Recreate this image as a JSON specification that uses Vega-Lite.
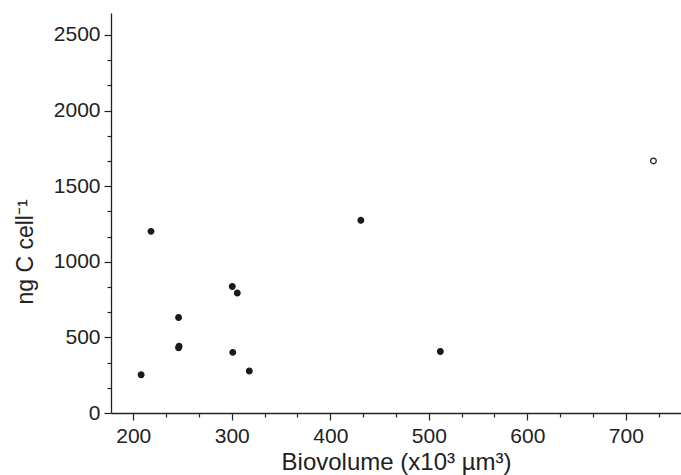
{
  "$schema": "https://vega.github.io/schema/vega-lite/v6.json",
  "width": 570,
  "height": 400,
  "autosize": "none",
  "padding": {"left": 111, "top": 13, "right": 0, "bottom": 62},
  "background": "white",
  "config": {
    "view": {"stroke": null},
    "font": "Liberation Sans"
  },
  "data": {
    "values": [
      {"biovolume": 208, "carbon": 253, "kind": "filled"},
      {"biovolume": 218, "carbon": 1201, "kind": "filled"},
      {"biovolume": 246, "carbon": 632, "kind": "filled"},
      {"biovolume": 246, "carbon": 432, "kind": "filled"},
      {"biovolume": 246.5, "carbon": 441, "kind": "filled"},
      {"biovolume": 300.5, "carbon": 837, "kind": "filled"},
      {"biovolume": 305.6, "carbon": 793, "kind": "filled"},
      {"biovolume": 301, "carbon": 401, "kind": "filled"},
      {"biovolume": 317.8, "carbon": 278, "kind": "filled"},
      {"biovolume": 431, "carbon": 1274, "kind": "filled"},
      {"biovolume": 511.7, "carbon": 407, "kind": "filled"},
      {"biovolume": 728, "carbon": 1667, "kind": "open"}
    ]
  },
  "mark": {"type": "point", "filled": false, "opacity": 1, "strokeWidth": 1.3, "stroke": "#1a1a1a"},
  "encoding": {
    "x": {
      "field": "biovolume",
      "type": "quantitative",
      "scale": {"domain": [177.4, 756], "nice": false, "zero": false},
      "axis": {
        "title": "Biovolume (x10³ µm³)",
        "values": [200, 233.333, 266.667, 300, 333.333, 366.667, 400, 433.333, 466.667, 500, 533.333, 566.667, 600, 633.333, 666.667, 700, 733.333],
        "labelExpr": "abs(datum.value/100 - round(datum.value/100)) < 0.01 ? format(datum.value, 'd') : ''",
        "labelOverlap": false,
        "labelFlush": false,
        "labelFont": "Liberation Sans",
        "labelFontSize": 21,
        "labelColor": "#222",
        "labelBaseline": "alphabetic",
        "labelPadding": 22.5,
        "tickSize": {"condition": {"test": "abs(datum.value/100 - round(datum.value/100)) < 0.01", "value": 7}, "value": 4},
        "tickColor": "#222",
        "tickWidth": 1.2,
        "domainColor": "#222",
        "domainWidth": 1.3,
        "grid": false,
        "titleFont": "Liberation Sans",
        "titleFontSize": 24,
        "titleFontWeight": "normal",
        "titleColor": "#222",
        "titleBaseline": "alphabetic",
        "titleY": 56.5
      }
    },
    "y": {
      "field": "carbon",
      "type": "quantitative",
      "scale": {"domain": [0, 2645], "nice": false, "zero": true},
      "axis": {
        "title": "ng C cell⁻¹",
        "values": [0, 166.667, 333.333, 500, 666.667, 833.333, 1000, 1166.667, 1333.333, 1500, 1666.667, 1833.333, 2000, 2166.667, 2333.333, 2500],
        "labelExpr": "abs(datum.value/500 - round(datum.value/500)) < 0.01 ? format(datum.value, 'd') : ''",
        "labelOverlap": false,
        "labelFlush": false,
        "labelFont": "Liberation Sans",
        "labelFontSize": 21,
        "labelColor": "#222",
        "labelPadding": 4,
        "tickSize": {"condition": {"test": "abs(datum.value/500 - round(datum.value/500)) < 0.01", "value": 7}, "value": 4},
        "tickColor": "#222",
        "tickWidth": 1.2,
        "domainColor": "#222",
        "domainWidth": 1.3,
        "grid": false,
        "titleFont": "Liberation Sans",
        "titleFontSize": 23,
        "titleFontWeight": "normal",
        "titleColor": "#222",
        "titleAngle": 270,
        "titleBaseline": "alphabetic",
        "titleAlign": "center",
        "titleX": -79,
        "titleY": 238.5
      }
    },
    "fill": {
      "field": "kind",
      "type": "nominal",
      "scale": {"domain": ["filled", "open"], "range": ["#1a1a1a", "white"]},
      "legend": null
    },
    "size": {"value": 32}
  }
}
